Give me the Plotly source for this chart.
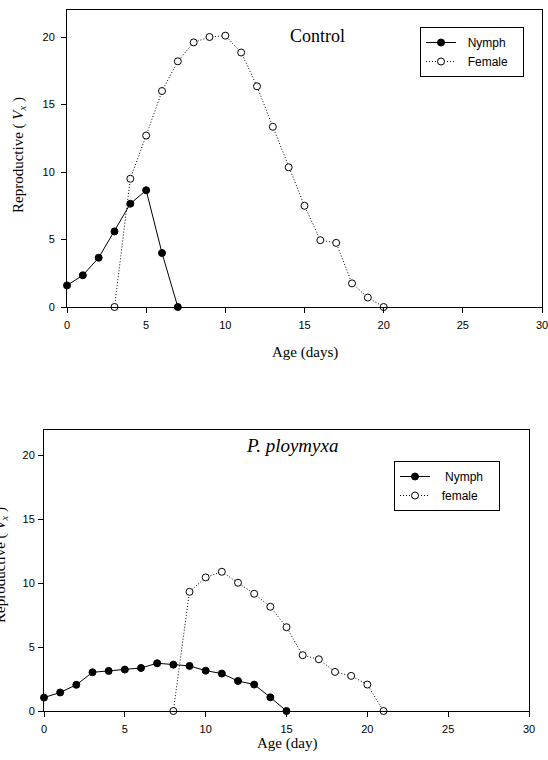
import plotly.graph_objects as go

# ---- data ----
ctrl_nymph_age = [0, 1, 2, 3, 4, 5, 6, 7]
ctrl_nymph_vx = [1.6, 2.35, 3.65, 5.6, 7.65, 8.65, 4.0, 0.0]
ctrl_female_age = [3, 4, 5, 6, 7, 8, 9, 10, 11, 12, 13, 14, 15, 16, 17, 18, 19, 20]
ctrl_female_vx = [0.0, 9.5, 12.7, 16.0, 18.2, 19.6, 20.0, 20.1, 18.85, 16.35, 13.35, 10.35,
                  7.5, 4.95, 4.75, 1.75, 0.7, 0.0]

pp_nymph_age = list(range(0, 16))
pp_nymph_vx = [1.05, 1.45, 2.05, 3.03, 3.14, 3.24, 3.37, 3.74, 3.63, 3.53, 3.16, 2.93,
               2.35, 2.07, 1.07, 0.0]
pp_female_age = list(range(8, 22))
pp_female_vx = [0.0, 9.33, 10.46, 10.9, 10.04, 9.18, 8.16, 6.56, 4.37, 4.05, 3.06, 2.75,
                2.07, 0.0]

x_ticks = [0, 5, 10, 15, 20, 25, 30]
y_ticks = [0, 5, 10, 15, 20]

W, H = 548, 760
SANS = "Arial, Liberation Sans, sans-serif"
SERIF = "Times New Roman, Liberation Serif, serif"
NB = "&nbsp;"

def px_x(p):
    return p / W

def px_y(p):
    return 1 - p / H

fig = go.Figure()

def add_pair(nx, ny, fx, fy, xa, ya, nname, fname, leg):
    fig.add_trace(go.Scatter(
        x=nx, y=ny, mode="lines+markers", name=nname,
        line=dict(color="black", width=1),
        marker=dict(symbol="circle", size=7, color="black", line=dict(color="black", width=1)),
        xaxis=xa, yaxis=ya, legend=leg, cliponaxis=False))
    fig.add_trace(go.Scatter(
        x=fx, y=fy, mode="lines+markers", name=fname,
        line=dict(color="black", width=1, dash="1px,2px"),
        marker=dict(symbol="circle", size=7, color="white", line=dict(color="black", width=1)),
        xaxis=xa, yaxis=ya, legend=leg, cliponaxis=False))

add_pair(ctrl_nymph_age, ctrl_nymph_vx, ctrl_female_age, ctrl_female_vx, "x", "y",
         NB * 2 + "Nymph" + NB * 3, NB * 2 + "Female" + NB * 3, "legend")
add_pair(pp_nymph_age, pp_nymph_vx, pp_female_age, pp_female_vx, "x2", "y2",
         NB * 3 + "Nymph" + NB * 3, NB * 2 + "female" + NB * 3, "legend2")

axis_common = dict(
    showline=True, linecolor="black", linewidth=1, mirror=True,
    ticks="outside", ticklen=5, tickcolor="black", tickwidth=1,
    showgrid=False, zeroline=False, automargin=False, ticklabeloverflow="allow",
    tickfont=dict(family=SANS, size=11, color="black"),
)

fig.update_layout(
    width=W, height=H,
    margin=dict(l=0, r=0, t=0, b=0, autoexpand=False),
    paper_bgcolor="white", plot_bgcolor="white",
    showlegend=True,
    xaxis=dict(axis_common, domain=[px_x(67), px_x(542)], range=[0, 30], tickvals=x_ticks,
               anchor="y", ticklabelstandoff=3),
    yaxis=dict(axis_common, domain=[px_y(307), px_y(10)], range=[0, 22], tickvals=y_ticks,
               anchor="x", ticklabelstandoff=4),
    xaxis2=dict(axis_common, domain=[px_x(44), px_x(529)], range=[0, 30], tickvals=x_ticks,
                anchor="y2", ticklabelstandoff=3),
    yaxis2=dict(axis_common, domain=[px_y(711), px_y(430)], range=[0, 22], tickvals=y_ticks,
                anchor="x2", ticklabelstandoff=1),
    legend=dict(x=px_x(420), y=px_y(27), xanchor="left", yanchor="top",
                bordercolor="black", borderwidth=1, bgcolor="white",
                font=dict(family=SANS, size=12, color="black"), tracegroupgap=0),
    legend2=dict(x=px_x(394), y=px_y(461), xanchor="left", yanchor="top",
                 bordercolor="black", borderwidth=1, bgcolor="white",
                 font=dict(family=SANS, size=12, color="black"), tracegroupgap=0),
)

def ann(text, x, y, size, angle=0):
    return dict(text=text, x=px_x(x), y=px_y(y), xref="paper", yref="paper",
                xanchor="center", yanchor="middle", textangle=angle,
                showarrow=False, font=dict(family=SERIF, size=size, color="black"))

annotations = [
    ann("Control", 317, 36, 18),
    ann("<i>P. ploymyxa</i>", 292, 445, 19),
    ann("Age (days)", 305, 352, 15),
    ann("Age (day)", 287, 743, 15),
    ann("Reproductive ( <i>V<sub>x</sub></i> )", 19, 155, 15, -90),
    ann("Reproductive ( <i>V<sub>x</sub></i> )", 1, 565, 15, -90),
]
fig.update_layout(annotations=annotations)

fig.write_html(
    "out.html",
    config={"displayModeBar": False},
    post_script="document.body.style.margin='0';document.body.style.padding='0';"
                "document.documentElement.style.overflow='hidden';",
)
